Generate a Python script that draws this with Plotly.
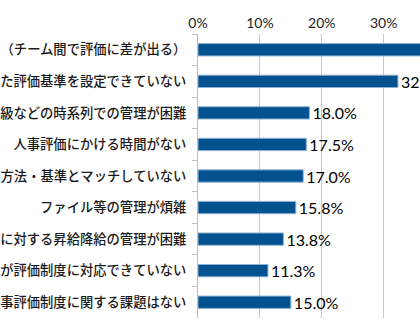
import plotly.graph_objects as go

categories = [
    "評価者ごとに評価基準がばらばら（チーム間で評価に差が出る）",
    "職種や役割に合った評価基準を設定できていない",
    "評価結果や昇格・降級などの時系列での管理が困難",
    "人事評価にかける時間がない",
    "自社の評価方法・基準とマッチしていない",
    "ファイル等の管理が煩雑",
    "評価結果に対する昇給降給の管理が困難",
    "既存システムの機能が評価制度に対応できていない",
    "特に人事評価制度に関する課題はない",
]
values = [40.3, 32.3, 18.0, 17.5, 17.0, 15.8, 13.8, 11.3, 15.0]
tick_vals = [0, 10, 20, 30]
tick_text = ["0%", "10%", "20%", "30%"]

W, H = 420, 330
L, T, B = 198, 34, 12
px_per_pct = 6.19
xmax = (W - L) / px_per_pct

fig = go.Figure(
    go.Bar(
        x=values,
        y=categories,
        orientation="h",
        width=0.39,
        marker=dict(color="#02528f", line=dict(color="#8fb2d2", width=1)),
        text=[f"{v:.1f}%" for v in values],
        textposition="outside",
        textfont=dict(family="Lato, Carlito, sans-serif", size=16, color="#000000"),
        cliponaxis=False,
        constraintext="none",
    )
)

fig.update_layout(
    width=W,
    height=H,
    margin=dict(l=L, r=0, t=T, b=B, pad=0, autoexpand=False),
    paper_bgcolor="white",
    plot_bgcolor="white",
    showlegend=False,
    bargap=0.6,
)
fig.update_xaxes(
    range=[0, xmax],
    side="top",
    tickvals=tick_vals,
    ticktext=tick_text,
    tickangle=0,
    automargin=False,
    tickfont=dict(family="Lato, Carlito, sans-serif", size=14, color="#222222"),
    showgrid=True,
    gridcolor="#c8c8c8",
    gridwidth=1,
    zeroline=False,
    showline=False,
    ticks="",
    ticklabelstandoff=2,
)
fig.update_yaxes(
    autorange="reversed",
    automargin=False,
    showline=True,
    linecolor="#bfbfbf",
    linewidth=1,
    ticks="outside",
    tickson="boundaries",
    ticklen=5,
    tickcolor="#bfbfbf",
    tickfont=dict(family="Noto Sans CJK JP", size=13.3, color="#1a1a1a", weight=500),
    ticklabelstandoff=8,
    showgrid=False,
)

fig.write_html("out.html")
